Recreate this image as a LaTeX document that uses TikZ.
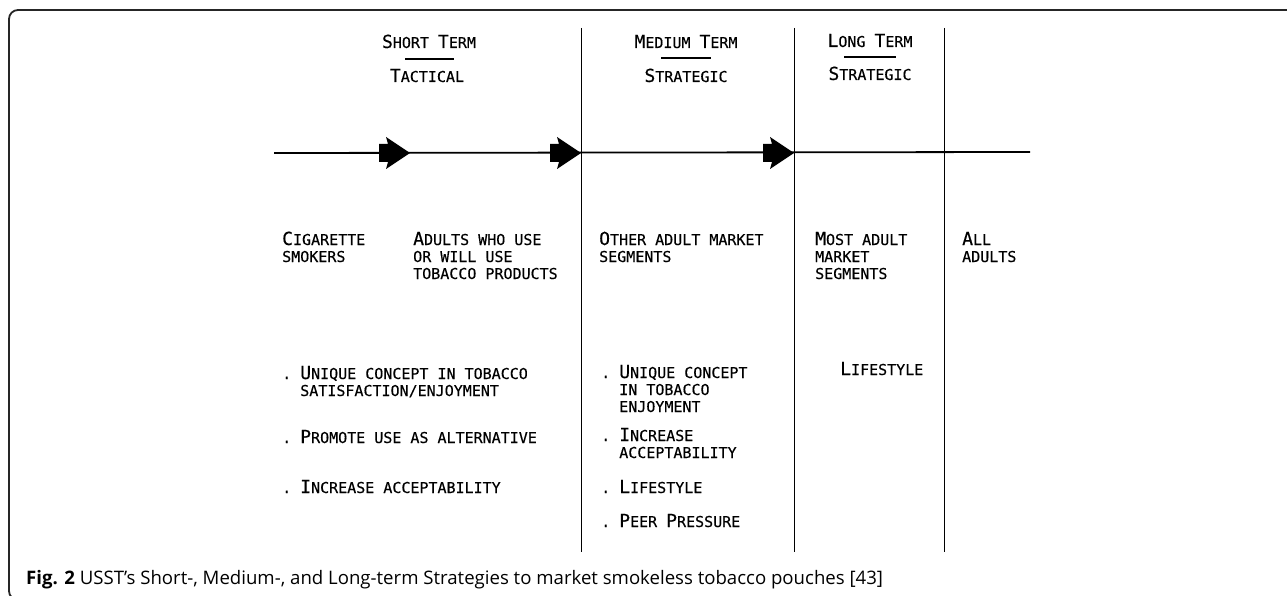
\documentclass[tikz,border=0pt]{standalone}
\usepackage{fontspec}
\setmainfont{Open Sans}
\newfontfamily\typed[FakeBold=0.35]{DejaVu Sans Mono}
\usetikzlibrary{calc}
\newcommand{\ini}[1]{{\fontsize{18}{18}\selectfont #1}}
\newcommand{\ind}{\phantom{.\ }}
\tikzset{
  cell/.style={font=\typed\fontsize{15}{17}\selectfont, inner sep=0, anchor=base west, align=left},
  head/.style={font=\typed\fontsize{15}{17}\selectfont, inner sep=0, anchor=base},
  rule/.style={black, line width=1.8pt},
  col/.style={black, line width=1pt},
  fatarrow/.pic={\fill (0,0) -- (-24,-16) -- (-22,-9) -- (-31,-9) -- (-31,9) -- (-22,9) -- (-24,16) -- cycle;}
}

\begin{document}
\begin{tikzpicture}[x=1pt, y=-1pt]
\useasboundingbox (0,0) rectangle (1287,596);
\draw[line width=1.8pt, black!85, rounded corners=9pt] (9,10) rectangle (1300,600);
\coordinate (tl0) at (274,153);
\coordinate (tl1) at (1030,152);
\draw[rule] (tl0) -- (tl1);
\foreach \x/\n in {581/a,794/b,944/c} {
  \coordinate (top\n) at (\x,28);
  \coordinate (bot\n) at (\x,552);
  \draw[col] (top\n) -- (bot\n);
}
\foreach \x in {410,581,794} {
  \pic at (\x,153) {fatarrow};
}
\node[head] (shortterm) at (429,48) {\ini{S}HORT \ini{T}ERM};
\node[head] (shorttype) at (427,82) {\ini{T}ACTICAL};
\node[head] (medterm) at (686,48) {\ini{M}EDIUM \ini{T}ERM};
\node[head] (medtype) at (686,82) {\ini{S}TRATEGIC};
\node[head] (longterm) at (870,47) {\ini{L}ONG \ini{T}ERM};
\node[head] (longtype) at (870,80) {\ini{S}TRATEGIC};
\draw[rule] ($(shortterm.base)+(-24,11)$) -- ++(49,0);
\draw[rule] ($(medterm.base)+(-25,10)$) -- ++(50,0);
\draw[rule] ($(longterm.base)+(-26,10)$) -- ++(52,0);
\node[cell] (smokers) at (282,262) {\ini{C}IGARETTE\\SMOKERS};
\node[cell] (users) at (413,279) {\ini{A}DULTS WHO USE\\OR WILL USE\\TOBACCO PRODUCTS};
\node[cell] (others) at (599,262) {\ini{O}THER ADULT MARKET\\SEGMENTS};
\node[cell] (most) at (815,279) {\ini{M}OST ADULT\\MARKET\\SEGMENTS};
\node[cell] (all) at (962,262) {\ini{A}LL\\ADULTS};
\node[cell] (s1) at (282,396) {.\ \ini{U}NIQUE CONCEPT IN TOBACCO\\\ind SATISFACTION/ENJOYMENT};
\node[cell] (s2) at (282,443) {.\ \ini{P}ROMOTE USE AS ALTERNATIVE};
\node[cell] (s3) at (282,493) {.\ \ini{I}NCREASE ACCEPTABILITY};
\node[cell] (m1) at (601,412) {.\ \ini{U}NIQUE CONCEPT\\\ind IN TOBACCO\\\ind ENJOYMENT};
\node[cell] (m2) at (601,458) {.\ \ini{I}NCREASE\\\ind ACCEPTABILITY};
\node[cell] (m3) at (601,493) {.\ \ini{L}IFESTYLE};
\node[cell] (m4) at (601,527) {.\ \ini{P}EER \ini{P}RESSURE};
\node[cell] (l1) at (840,375) {\ini{L}IFESTYLE};
\node[anchor=base west, inner sep=0, font=\fontsize{18.6}{18.6}\selectfont] (caption) at (26,584) {\textbf{Fig. 2} USST’s Short-, Medium-, and Long-term Strategies to market smokeless tobacco pouches [43]};
\end{tikzpicture}
\end{document}
